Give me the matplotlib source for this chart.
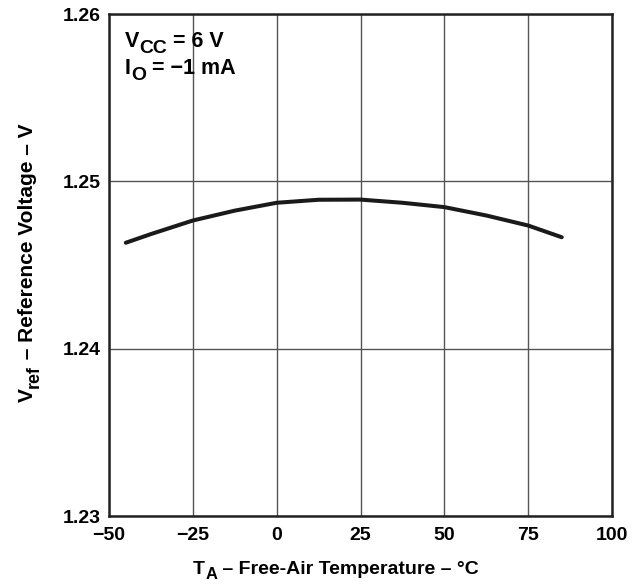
import numpy as np
import matplotlib
matplotlib.use("Agg")
import matplotlib.pyplot as plt

# reference voltage vs free-air temperature
temp = [-45, -37.5, -25, -12.5, 0, 12.5, 25, 37.5, 50, 62.5, 75, 85]
vref = [1.24633, 1.24685, 1.24766, 1.24825, 1.24872, 1.24890, 1.24891,
        1.24872, 1.24846, 1.24796, 1.24736, 1.24666]

xticks = [-50, -25, 0, 25, 50, 75, 100]
yticks = [1.23, 1.24, 1.25, 1.26]

plt.rcParams['font.family'] = ['Liberation Sans', 'DejaVu Sans']
plt.rcParams['font.weight'] = 'bold'

W, H = 635, 584
fig = plt.figure(figsize=(W / 100, H / 100), dpi=100)
ax = fig.add_axes([0.1717, 0.1164, 0.7921, 0.8596])

ax.plot(temp, vref, color='#1a1a1a', lw=2.9, solid_capstyle='round')

ax.set_xlim(-50, 100)
ax.set_ylim(1.23, 1.26)
ax.set_xticks(xticks)
ax.set_yticks(yticks)
ax.set_xticklabels(['\u221250', '\u221225', '0', '25', '50', '75', '100'])
ax.set_yticklabels(['%.2f' % v for v in yticks])
ax.tick_params(length=0, labelsize=14)
ax.tick_params(axis='x', pad=8)
ax.tick_params(axis='y', pad=6)
ax.grid(True, color='#555555', lw=1.0)
for s in ax.spines.values():
    s.set_linewidth(1.8)
    s.set_color('#222222')

renderer = fig.canvas.get_renderer()


def rich(x, y, parts, size, rot=0, center=False, subscale=0.85):
    # x, y in pixels from bottom-left; parts = [(text, is_subscript)]
    texts = []
    for s, sub in parts:
        fs = size * subscale if sub else size
        t = fig.text(0, 0, s, fontsize=fs, fontweight='bold', ha='left',
                     va='baseline', rotation=rot, rotation_mode='anchor',
                     transform=None)
        texts.append((t, sub))
    lens = []
    for t, sub in texts:
        bb = t.get_window_extent(renderer)
        lens.append(bb.height if rot else bb.width)
    total = sum(lens)
    pos = -total / 2 if center else 0
    shift = size * 1.389 * 0.28
    for (t, sub), L in zip(texts, lens):
        if rot:
            t.set_position((x + (shift if sub else 0), y + pos))
        else:
            t.set_position((x + pos, y - (shift if sub else 0)))
        pos += L


rich(125, H - 47, [('V', False), ('CC', True), (' = 6 V', False)], 15.5, subscale=0.9)
rich(125, H - 74, [('I', False), ('O', True), (' = \u22121 mA', False)], 15.5, subscale=0.9)
rich(336, H - 574, [('T', False), ('A', True),
                    (' \u2013 Free-Air Temperature \u2013 \u00b0C', False)],
     14, center=True)
rich(33, H - 263, [('V', False), ('ref', True),
                   (' \u2013 Reference Voltage \u2013 V', False)],
     15, rot=90, center=True)

plt.savefig('out.png', dpi=100)
plt.close()
